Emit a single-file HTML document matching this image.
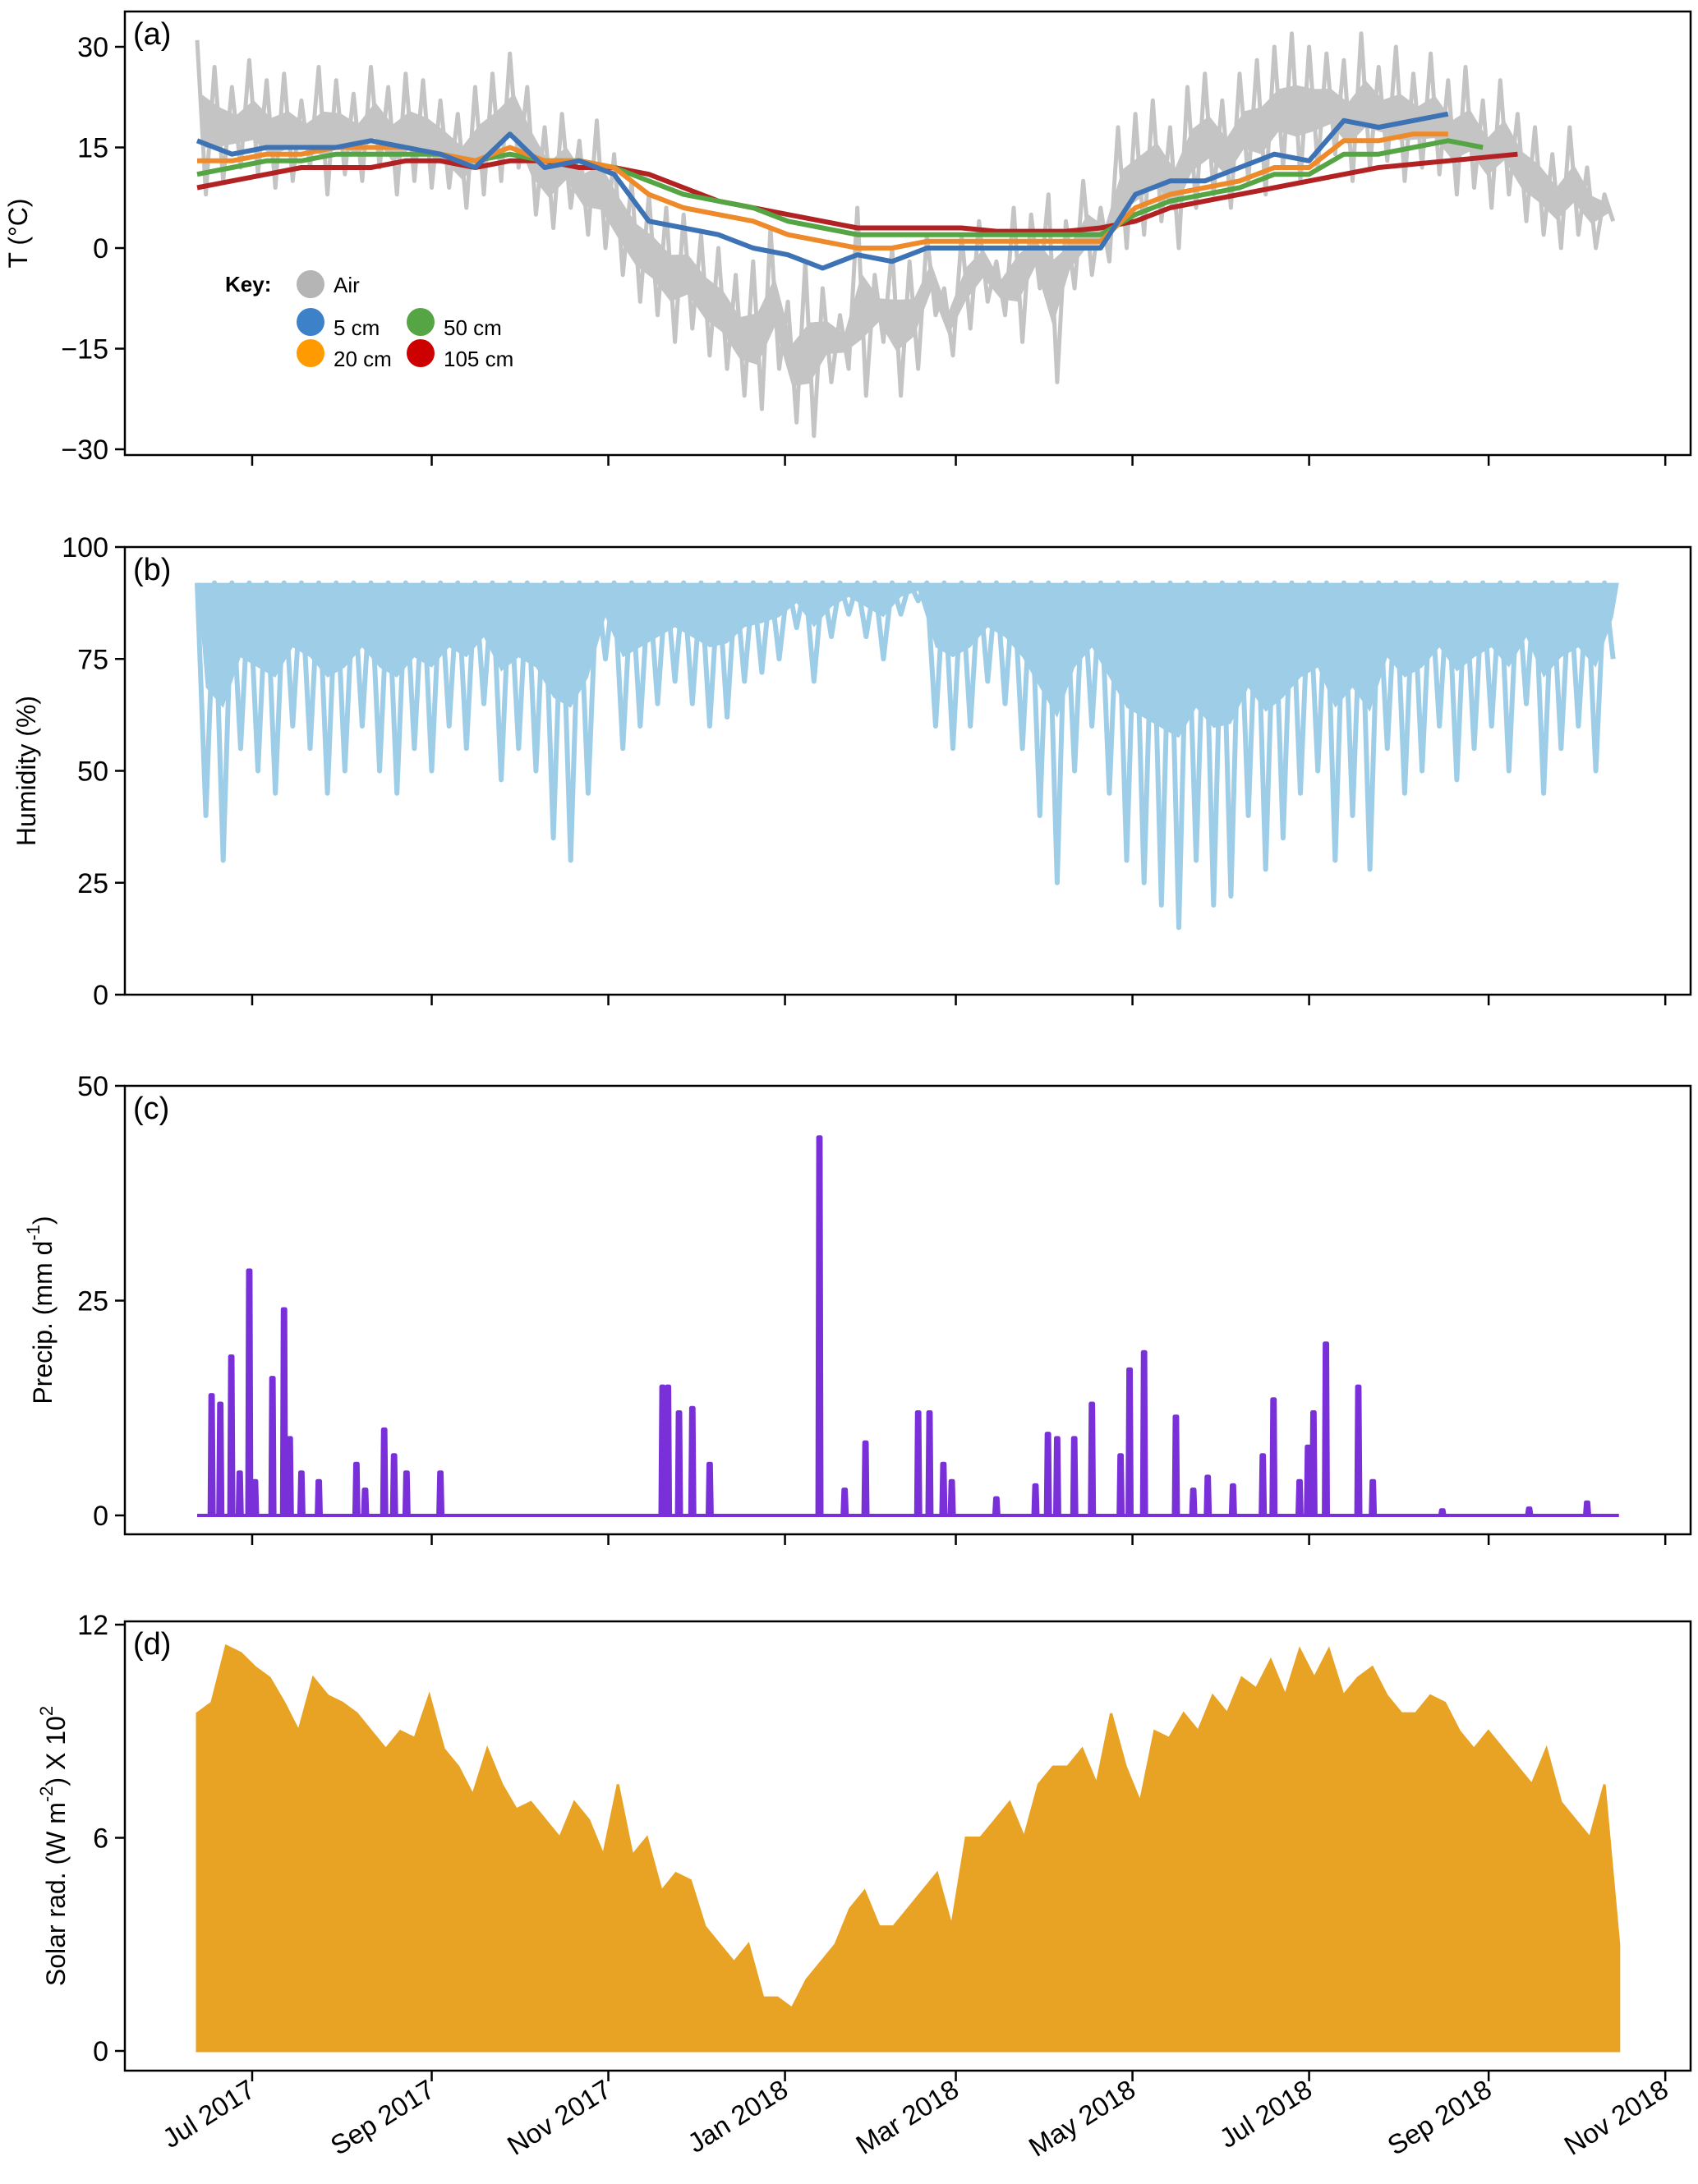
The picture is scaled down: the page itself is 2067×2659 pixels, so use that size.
<!DOCTYPE html>
<html><head><meta charset="utf-8"><style>
html,body{margin:0;padding:0;background:#fff}
svg{display:block;font-family:"Liberation Sans",sans-serif}
</style></head><body>
<svg id="chart" width="2067" height="2659" viewBox="0 0 2067 2659" xmlns="http://www.w3.org/2000/svg"></svg>
<script>
// ---- data ----
const monthTicks = ["Jul 2017","Sep 2017","Nov 2017","Jan 2018","Mar 2018","May 2018","Jul 2018","Sep 2018","Nov 2018"];
const monthTickDays = [19,81,142,203,262,323,384,446,507]; // days since 2017-06-12
const airHigh = [31,27,24,28,25, 26,22,27,25,23,27,24,26,25, 22,20,24,26,29, 24,18,20,16,19, 14,10,8,6,5, 2,0,-4,-2,3, -8,-2,-6,-10,6, -4,0,-2,2,-6, 2,4,-2,6,5, 8,4,10,6,18, 20,22,18,24,26, 22,26,28,30,32, 30,29,28,32,27, 30,26,29,25,27, 22,25,20,18,14, 18,12,8];
const airLow = [8,10,12,11,9, 10,12,8,11,10,12,8,10,9, 9,6,8,10,12, 5,3,6,2,0, -4,-8,-10,-14,-12, -16,-18,-22,-24,-18, -26,-28,-20,-18,-22, -14,-22,-18,-10,-16, -12,-8,-10,-14,-6, -20,-6,-4,-2,0, 2,4,0,6,8, 6,10,8,12,10, 12,14,10,12,13, 10,12,11,8,9, 6,8,4,2,0, 2,0,4];
const soil5 = [16,14,15,15,15,16,15,14,12,17,12,13,11,4,3,2,0,-1,-3,-1,-2,0,0,0,0,0,0,8,10,10,12,14,13,19,18,19,20];
const soil20 = [13,13,14,14,15,15,15,14,13,15,13,13,12,8,6,5,4,2,1,0,0,1,1,1,1,1,1,6,8,9,10,12,12,16,16,17,17];
const soil50 = [11,12,13,13,14,14,14,14,13,14,13,13,12,10,8,7,6,4,3,2,2,2,2,2,2,2,2,5,7,8,9,11,11,14,14,15,16,15];
const soil105 = [9,10,11,12,12,12,13,13,12,13,13,12,12,11,9,7,6,5,4,3,3,3,3,2.5,2.5,2.5,3,4,6,7,8,9,10,11,12,12.5,13,13.5,14];
const humidMin = [40,30,55,50,45,60,55,45,50,60,50,45,55, 50,60,55,65,48, 55,50,35,30,45, 75,55,60,65,70, 65,60,62,70,72, 75,82,70,80,85, 80,75,85,88,60, 55,60,70,65,55, 40,25,50,60,45, 30,25,20,15,30, 20,22,40,28,35, 45,50,30,40,28, 55,45,50,60,48, 55,60,50,65,45, 55,60,50,75];
const precipDays = [5,8,11.8,14.7,18,20,26,30,32,36,42,55,58,64.6,68,72.3,84,160.7,162.6,166.4,171,177,214.9,223.6,230.8,249,252.9,257.7,260.6,276,289.5,293.8,297,302.9,309,318.9,322,327,338,344,349,357.7,368,371.7,380.7,383.6,385.5,389.8,401,406,430,460,480];
const precipVals = [14,13,18.5,5,28.5,4,16,24,9,5,4,6,3,10,7,5,5,15,15,12,12.5,6,44,3,8.5,12,12,6,4,2,3.5,9.5,9,9,13,7,17,19,11.5,3,4.5,3.5,7,13.5,4,8,12,20,15,4,0.6,0.8,1.5];
const solarMax = [9.5,9.8,11.4,11.2,10.8,10.5, 9.8,9,10.5,10,9.8,9.5, 9,8.5,9,8.8,10,8.5, 8,7.2,8.5,7.5,6.8,7, 6.5,6,7,6.5,5.5,7.5, 5.5,6,4.5,5,4.8,3.5, 3,2.5,3,1.5,1.5,1.2, 2,2.5,3,4,4.5,3.5, 3.5,4,4.5,5,3.5,6, 6,6.5,7,6,7.5,8, 8,8.5,7.5,9.5,8,7, 9,8.8,9.5,9,10,9.5, 10.5,10.2,11,10,11.3,10.5, 11.3,10,10.5,10.8,10,9.5, 9.5,10,9.8,9,8.5,9, 8.5,8,7.5,8.5,7,6.5, 6,7.5,3];
const startDay = 0, endDay = 491, soilStep = 12;

// ---- layout ----
const NS="http://www.w3.org/2000/svg";
const svg=document.getElementById('chart');
const axL=152, axR=2058;
const xOf = d => 240 + d*3.525;
const panels = [
 {key:'a', top:14, bottom:554, vmin:-30, vmax:30, y0:547, y1:57, ticks:[30,15,0,-15,-30], tickLab:["30","15","0","\u221215","\u221230"], title:"T (\u00b0C)", tx:22},
 {key:'b', top:666, bottom:1211, vmin:0, vmax:100, y0:1211, y1:666, ticks:[100,75,50,25,0], tickLab:["100","75","50","25","0"], title:"Humidity (%)", tx:32},
 {key:'c', top:1322, bottom:1868, vmin:0, vmax:50, y0:1845, y1:1322, ticks:[50,25,0], tickLab:["50","25","0"], title:"Precip.", tx:52},
 {key:'d', top:1974, bottom:2521, vmin:0, vmax:12, y0:2497, y1:1978, ticks:[12,6,0], tickLab:["12","6","0"], title:"Solar rad.", tx:68}
];
panels.forEach(p=>{p.y=v=>p.y0+(v-p.vmin)*(p.y1-p.y0)/(p.vmax-p.vmin);});
function el(tag,attrs,parent){const e=document.createElementNS(NS,tag);for(const k in attrs)e.setAttribute(k,attrs[k]);(parent||svg).appendChild(e);return e;}
function ptsStr(pts){return pts.map(p=>p[0].toFixed(1)+','+p[1].toFixed(1)).join(' ');}
function pline(pts,attrs,parent){return el('polyline',Object.assign({points:ptsStr(pts),fill:'none','stroke-linejoin':'round'},attrs),parent);}

panels.forEach(p=>{
  const g=el('g',{});
  
  
  const clip=el('clipPath',{id:'clip'+p.key},g);
  el('rect',{x:axL,y:p.top,width:axR-axL,height:p.bottom-p.top},clip);
  const plot=el('g',{'clip-path':'url(#clip'+p.key+')'},g);
  
  
  p.plot=plot;
  p.ticks.forEach((t,i)=>{
    const yy=p.y(t);
    const tk=el('line',{x1:axL-12,x2:axL,y1:yy,y2:yy,stroke:'#000','stroke-width':2.5},g);
    
    
    const tl=el('text',{x:axL-20,y:yy+12,'text-anchor':'end','font-size':34,fill:'#000'},g);
    tl.textContent=p.tickLab[i];
    
    
  });
  monthTickDays.forEach(d=>{
    const tk=el('line',{x1:xOf(d),x2:xOf(d),y1:p.bottom,y2:p.bottom+13,stroke:'#000','stroke-width':2.5},g);
    
    
  });
  const cy=(p.top+p.bottom)/2;
  const t=el('text',{x:p.tx,y:cy,transform:'rotate(-90 '+p.tx+' '+cy+')','text-anchor':'middle','dominant-baseline':'central','font-size':32,fill:'#000'},g);
  
  
  if(p.key==='c'){t.innerHTML='Precip. (mm d<tspan dy="-12" font-size="22">-1</tspan><tspan dy="12">)</tspan>';}
  else if(p.key==='d'){t.innerHTML='Solar rad. (W m<tspan dy="-12" font-size="22">-2</tspan><tspan dy="12">) X 10</tspan><tspan dy="-12" font-size="22">2</tspan>';}
  else t.textContent=p.title;
  p.g=g;
});

// ---- panel a ----
const pa=panels[0];
const bandTop=[],bandBot=[];
airHigh.forEach((h,i)=>{const l=airLow[i];bandTop.push([xOf(i*6+1.5),pa.y(h*0.65+l*0.35)]);bandBot.push([xOf(i*6+1.5),pa.y(h*0.3+l*0.7)]);});
const band=el('polygon',{points:ptsStr(bandTop.concat(bandBot.reverse())),fill:'#c4c4c4'},pa.plot);


const airPts=[];
airHigh.forEach((h,i)=>{airPts.push([xOf(i*6),pa.y(h)]);airPts.push([xOf(i*6+3),pa.y(airLow[i])]);});
const air=pline(airPts,{stroke:'#c4c4c4','stroke-width':5},pa.plot);


[[soil105,'#b22222','soil-105cm-line'],[soil50,'#55a544','soil-50cm-line'],[soil20,'#ef8a2a','soil-20cm-line'],[soil5,'#3d72b4','soil-5cm-line']].forEach(([arr,c,n])=>{
  const l=pline(arr.map((v,i)=>[xOf(i*soilStep),pa.y(v)]),{stroke:c,'stroke-width':6},pa.plot);
  
  
});
const lg=el('g',{});


const key=el('text',{x:274,y:355,'font-size':26,'font-weight':'bold'},lg);key.textContent='Key:';
[['Air','#b5b5b5',378,346],['5 cm','#3d82c8',378,392],['50 cm','#55a544',512,392],['20 cm','#ff9a00',378,430],['105 cm','#cc0000',512,430]].forEach(([lab,c,x,y])=>{
  const e=el('g',{},lg);
  
  
  el('ellipse',{cx:x,cy:y,rx:17,ry:17,fill:c},e);
  const t=el('text',{x:x+28,y:y+(lab==='Air'?10:16),'font-size':26},e);t.textContent=lab;
});

// ---- panel b ----
const pb=panels[1];
const hTop=[[xOf(0),pb.y(92)],[xOf(endDay),pb.y(92)]];
const hBot=humidMin.map((m,i)=>[xOf(i*6+3),pb.y(92-(92-m)*0.45)]).reverse();
const hBand=el('polygon',{points:ptsStr(hTop.concat(hBot)),fill:'#9ecde8'},pb.plot);


const humPts=[];
humidMin.forEach((m,i)=>{humPts.push([xOf(i*6),pb.y(92)]);humPts.push([xOf(i*6+3),pb.y(m)]);});
const hum=pline(humPts,{stroke:'#9ecde8','stroke-width':6},pb.plot);



// ---- panel c ----
const pc=panels[2];
const base=el('line',{x1:xOf(startDay),x2:xOf(endDay),y1:pc.y(0),y2:pc.y(0),stroke:'#7a30d8','stroke-width':4},pc.plot);


precipDays.forEach((d,i)=>{
  const l=pline([[xOf(d-0.7),pc.y(0)],[xOf(d-0.4),pc.y(precipVals[i])],[xOf(d+0.4),pc.y(precipVals[i])],[xOf(d+0.7),pc.y(0)]],{stroke:'#7a30d8','stroke-width':5},pc.plot);
  
  
});

// ---- panel d ----
const pd=panels[3];
const sStep=endDay/(solarMax.length-1);
const sPts=[[xOf(0),pd.y(0)]];
solarMax.forEach((v,i)=>{sPts.push([xOf(i*sStep),pd.y(v)]);});
sPts.push([xOf(endDay),pd.y(0)]);
const solar=el('polygon',{points:ptsStr(sPts),fill:'#e8a325',stroke:'#e8a325','stroke-width':3},pd.plot);



panels.forEach(p=>{
  const r=el('rect',{x:axL,y:p.top,width:axR-axL,height:p.bottom-p.top,fill:'none',stroke:'#000','stroke-width':2.5},p.g);
  
  
  const pl=el('text',{x:axL+10,y:p.top+40,'font-size':38},p.g);
  pl.textContent='('+p.key+')';
  
  
});

monthTicks.forEach((m,i)=>{
  const x=xOf(monthTickDays[i])+6, y=2550;
  const t=el('text',{x:x,y:y,'text-anchor':'end','font-size':33,transform:'rotate(-32 '+x+' '+y+')'});
  t.textContent=m;
  
  
});
</script>
</body></html>
